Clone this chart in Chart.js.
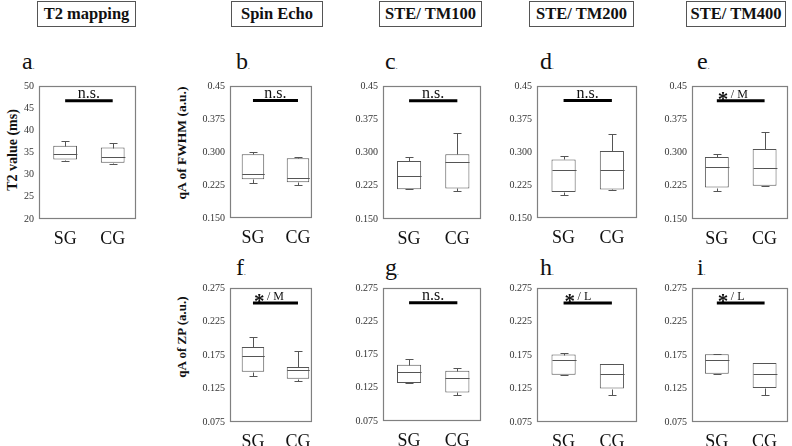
<!DOCTYPE html>
<html>
<head>
<meta charset="utf-8">
<script src="https://cdn.jsdelivr.net/npm/chart.js@4.4.1/dist/chart.umd.min.js"></script>
<style>
body { margin: 0; background: #fff; }
#fig { position: relative; width: 792px; height: 446px; overflow: hidden; font-family: 'Liberation Serif', 'Times New Roman', serif; color: #111; }
#fig canvas { position: absolute; }
.hdr { position: absolute; top: 1px; height: 24px; border: 1.5px solid #555; font-weight: bold; font-size: 16.5px; line-height: 24px; text-align: center; }
.let { position: absolute; font-size: 24px; line-height: 24px; }
.let small { font-size: 7px; }
.yt { position: absolute; font-weight: bold; white-space: nowrap; transform: translate(-50%, -50%) rotate(-90deg); }
</style>
</head>
<body>
<div id="fig">
  <div class="hdr" style="left:37px;width:97px">T2 mapping</div>
  <div class="hdr" style="left:231px;width:90px">Spin Echo</div>
  <div class="hdr" style="left:379px;width:101px">STE/ TM100</div>
  <div class="hdr" style="left:529px;width:103px">STE/ TM200</div>
  <div class="hdr" style="left:686px;width:98px">STE/ TM400</div>

  <div class="let" style="left:22px;top:49px">a<small>.</small></div>
  <div class="let" style="left:236px;top:49px">b<small>.</small></div>
  <div class="let" style="left:385px;top:49px">c<small>.</small></div>
  <div class="let" style="left:540px;top:49px">d<small>.</small></div>
  <div class="let" style="left:697px;top:49px">e<small>.</small></div>
  <div class="let" style="left:236px;top:255px">f<small>.</small></div>
  <div class="let" style="left:385px;top:255px">g<small>.</small></div>
  <div class="let" style="left:540px;top:255px">h<small>.</small></div>
  <div class="let" style="left:697px;top:255px">i<small>.</small></div>

  <div class="yt" style="left:13px;top:150px;font-size:14px">T2 value (ms)</div>
  <div class="yt" style="left:182px;top:143px;font-size:13.5px">qA of FWHM (a.u.)</div>
  <div class="yt" style="left:182px;top:337px;font-size:13px">qA of ZP (a.u.)</div>
</div>

<script>
// groups on the x axis
const groups = ['SG', 'CG'];

// box stats per group: [min, q1, median, q3, max]
const t2_SG      = [33.0, 33.4, 34.6, 36.5, 37.6];
const t2_CG      = [32.3, 32.7, 34.0, 36.1, 37.2];
const fwhmSE_SG  = [0.230, 0.238, 0.250, 0.295, 0.300];
const fwhmSE_CG  = [0.225, 0.231, 0.240, 0.286, 0.288];
const fwhm100_SG = [0.217, 0.217, 0.246, 0.281, 0.290];
const fwhm100_CG = [0.213, 0.219, 0.279, 0.296, 0.345];
const fwhm200_SG = [0.202, 0.209, 0.260, 0.283, 0.291];
const fwhm200_CG = [0.214, 0.215, 0.258, 0.302, 0.342];
const fwhm400_SG = [0.214, 0.221, 0.268, 0.290, 0.297];
const fwhm400_CG = [0.224, 0.225, 0.266, 0.308, 0.346];
const zpSE_SG    = [0.144, 0.150, 0.174, 0.187, 0.2025];
const zpSE_CG    = [0.136, 0.1396, 0.153, 0.157, 0.181];
const zp100_SG   = [0.132, 0.132, 0.149, 0.1595, 0.1675];
const zp100_CG   = [0.114, 0.118, 0.140, 0.1505, 0.154];
const zp200_SG   = [0.145, 0.1455, 0.167, 0.1757, 0.1777];
const zp200_CG   = [0.116, 0.125, 0.146, 0.1615, 0.162];
const zp400_SG   = [0.146, 0.147, 0.168, 0.176, 0.177];
const zp400_CG   = [0.116, 0.1256, 0.146, 0.163, 0.163];

// axis ticks
const t2Ticks        = [20, 25, 30, 35, 40, 45, 50];
const t2TickLabels   = ['20', '25', '30', '35', '40', '45', '50'];
const fwhmTicks      = [0.150, 0.225, 0.300, 0.375, 0.45];
const fwhmTickLabels = ['0.150', '0.225', '0.300', '0.375', '0.45'];
const zpTicks        = [0.075, 0.125, 0.175, 0.225, 0.275];
const zpTickLabels   = ['0.075', '0.125', '0.175', '0.225', '0.275'];

// significance bar height and labels
const t2SigLevel   = 46.7;
const fwhmSigLevel = 0.417;
const zpSigLevel   = 0.2527;
const sigLabels    = ['n.s.', 'n.s.', 'n.s.', 'n.s.', '* / M', '* / M', 'n.s.', '* / L', '* / L'];

const SERIF   = "'Liberation Serif', 'Times New Roman', serif";
const AXIS_W  = 34;
const PAD_T   = 10;
const PAD_R   = 3;
const XAXIS_H = 34;

// ── Whiskers + median on top of the floating bars ─────────────
const boxPlot = {
    id: 'boxPlot',
    afterDatasetsDraw(chart, args, opts) {
        const { ctx, scales: { x, y } } = chart;
        const bars = chart.getDatasetMeta(0).data;
        ctx.save();
        ctx.strokeStyle = '#555';
        ctx.lineWidth = 1;
        opts.stats.forEach((s, i) => {
            const cx = Math.round(x.getPixelForValue(i + 1)) + 0.5;
            const hw = bars[i].width / 2;
            const [lo, q1, med, q3, hi] = s.map(v => Math.round(y.getPixelForValue(v)) + 0.5);
            ctx.beginPath();
            ctx.moveTo(cx - hw, med); ctx.lineTo(cx + hw, med);
            ctx.moveTo(cx, q3); ctx.lineTo(cx, hi);
            ctx.moveTo(cx - 4, hi); ctx.lineTo(cx + 4, hi);
            ctx.moveTo(cx, q1); ctx.lineTo(cx, lo);
            ctx.moveTo(cx - 4, lo); ctx.lineTo(cx + 4, lo);
            ctx.stroke();
        });
        ctx.restore();
    }
};

// ── Plot frame + significance text ─────────────────────────────
const frameAndSig = {
    id: 'frameAndSig',
    afterDraw(chart, args, opts) {
        const { ctx, chartArea: a, scales: { x, y } } = chart;
        ctx.save();
        ctx.strokeStyle = '#808080';
        ctx.lineWidth = 1.2;
        ctx.strokeRect(a.left + 0.5, a.top + 0.5, a.right - a.left - 1, a.bottom - a.top - 1);

        const x1 = x.getPixelForValue(1), x2 = x.getPixelForValue(2);
        const yb = y.getPixelForValue(opts.level);
        ctx.fillStyle = '#111';
        ctx.textBaseline = 'alphabetic';
        if (opts.text === 'n.s.') {
            ctx.font = '16px ' + SERIF;
            ctx.textAlign = 'center';
            ctx.fillText('n.s.', (x1 + x2) / 2, yb - 3);
        } else {
            ctx.textAlign = 'left';
            ctx.font = 'bold 21px ' + SERIF;
            ctx.fillText('*', x1 + 1, yb + 5);
            ctx.font = '12px ' + SERIF;
            ctx.fillText(opts.text.slice(1).trim(), x1 + 14, yb - 3);
        }
        ctx.restore();
    }
};

const panels = [
    { sg: t2_SG,      cg: t2_CG,      ticks: t2Ticks,   labels: t2TickLabels,   level: t2SigLevel,   box: [39, 85, 97, 134],   xr: [0.45, 2.49] },
    { sg: fwhmSE_SG,  cg: fwhmSE_CG,  ticks: fwhmTicks, labels: fwhmTickLabels, level: fwhmSigLevel, box: [230, 85, 87, 133],  xr: [0.49, 2.31] },
    { sg: fwhm100_SG, cg: fwhm100_CG, ticks: fwhmTicks, labels: fwhmTickLabels, level: fwhmSigLevel, box: [383, 85, 98, 134],  xr: [0.46, 2.49] },
    { sg: fwhm200_SG, cg: fwhm200_CG, ticks: fwhmTicks, labels: fwhmTickLabels, level: fwhmSigLevel, box: [537, 85, 100, 133], xr: [0.45, 2.52] },
    { sg: fwhm400_SG, cg: fwhm400_CG, ticks: fwhmTicks, labels: fwhmTickLabels, level: fwhmSigLevel, box: [692, 85, 96, 134],  xr: [0.48, 2.49] },
    { sg: zpSE_SG,    cg: zpSE_CG,    ticks: zpTicks,   labels: zpTickLabels,   level: zpSigLevel,   box: [230, 287, 87, 135], xr: [0.49, 2.31] },
    { sg: zp100_SG,   cg: zp100_CG,   ticks: zpTicks,   labels: zpTickLabels,   level: zpSigLevel,   box: [383, 287, 98, 134], xr: [0.46, 2.49] },
    { sg: zp200_SG,   cg: zp200_CG,   ticks: zpTicks,   labels: zpTickLabels,   level: zpSigLevel,   box: [537, 287, 100, 135], xr: [0.45, 2.52] },
    { sg: zp400_SG,   cg: zp400_CG,   ticks: zpTicks,   labels: zpTickLabels,   level: zpSigLevel,   box: [692, 287, 96, 135], xr: [0.48, 2.49] }
];

function makePanel(p, idx) {
    const [px, py, pw, ph] = p.box;
    const canvas = document.createElement('canvas');
    canvas.width  = pw + AXIS_W + PAD_R;
    canvas.height = ph + PAD_T + XAXIS_H;
    canvas.style.left = (px - AXIS_W) + 'px';
    canvas.style.top  = (py - PAD_T) + 'px';
    document.getElementById('fig').appendChild(canvas);

    const stats = [p.sg, p.cg];
    new Chart(canvas.getContext('2d'), {
        data: {
            datasets: [{
                type: 'bar',
                data: stats.map((s, i) => ({ x: i + 1, y: [s[1], s[3]] })),
                backgroundColor: '#fff',
                borderColor: '#555',
                borderWidth: 1,
                borderSkipped: false,
                barPercentage: 0.5,
                categoryPercentage: 1
            }, {
                type: 'line',
                data: [{ x: 1, y: p.level }, { x: 2, y: p.level }],
                borderColor: '#000',
                borderWidth: 3,
                borderCapStyle: 'butt',
                pointRadius: 0
            }]
        },
        options: {
            responsive: false,
            animation: false,
            devicePixelRatio: 1,
            layout: { padding: { top: PAD_T, right: PAD_R, left: 0, bottom: 0 } },
            plugins: {
                legend: { display: false },
                tooltip: { enabled: false },
                boxPlot: { stats },
                frameAndSig: { text: sigLabels[idx], level: p.level }
            },
            scales: {
                x: {
                    type: 'linear',
                    offset: false,
                    min: p.xr[0], max: p.xr[1],
                    grid: { display: false, drawTicks: false, offset: false },
                    border: { display: false },
                    afterBuildTicks: s => { s.ticks = groups.map((g, i) => ({ value: i + 1 })); },
                    afterFit: s => { s.height = XAXIS_H; },
                    ticks: {
                        callback: (v, i) => groups[i],
                        font: { family: SERIF, size: 18 },
                        color: '#111',
                        padding: 9,
                        maxRotation: 0,
                        autoSkip: false
                    }
                },
                y: {
                    min: p.ticks[0], max: p.ticks[p.ticks.length - 1],
                    grid: { display: false, drawTicks: false },
                    border: { display: false },
                    afterBuildTicks: s => { s.ticks = p.ticks.map(v => ({ value: v })); },
                    afterFit: s => { s.width = AXIS_W; },
                    ticks: {
                        callback: (v, i) => p.labels[i],
                        font: { family: SERIF, size: 10 },
                        color: '#333',
                        padding: 5,
                        autoSkip: false
                    }
                }
            }
        },
        plugins: [boxPlot, frameAndSig]
    });
}

panels.forEach(makePanel);
</script>
</body>
</html>
